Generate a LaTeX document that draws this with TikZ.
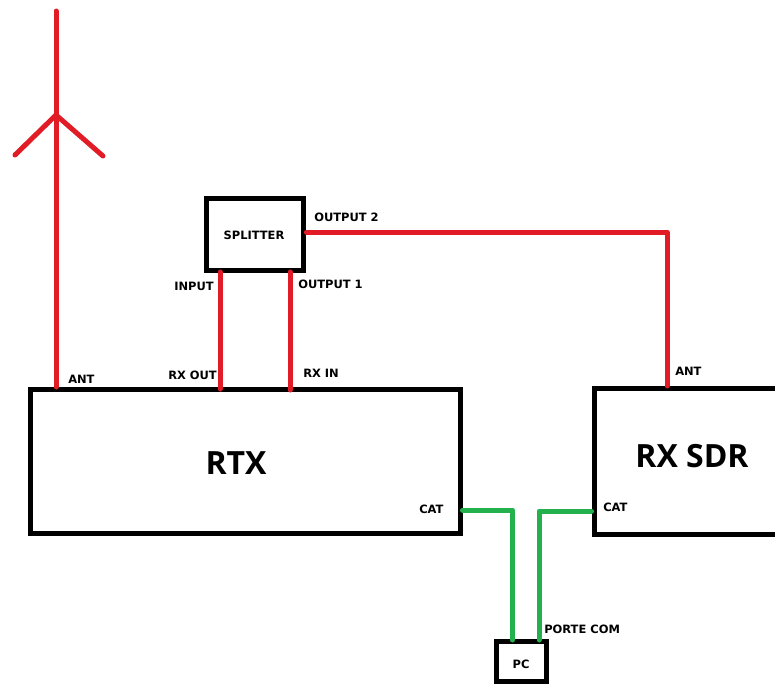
\documentclass[tikz,border=0pt]{standalone}
\usepackage{fontspec}
\setmainfont{DejaVu Sans}
\newfontfamily\bigfont[BoldFont={Open Sans Bold}]{Open Sans}
\definecolor{rfc}{RGB}{225,28,38}
\definecolor{gfc}{RGB}{34,177,76}
\tikzset{
 box/.style={draw=black,line width=3.75pt,fill=white,inner sep=0pt,rectangle},
 redw/.style={draw=rfc,line width=3.75pt,line cap=round,line join=round},
 greenw/.style={draw=gfc,line width=3.75pt,line cap=round,line join=round},
 lab/.style={font=\fontsize{8.6pt}{10pt}\bfseries,text=black,inner sep=0pt,anchor=west},
 midlab/.style={font=\fontsize{8.6pt}{10pt}\bfseries,text=black,inner sep=0pt},
 biglab/.style={font=\bigfont\fontsize{24pt}{26pt}\bfseries,text=black,inner sep=0pt},
}
\begin{document}
\begin{tikzpicture}[x=0.75pt,y=-0.75pt]
\useasboundingbox (0,0) rectangle (775,683);
\fill[white] (0,0) rectangle (775,683);
% boxes
\node[box,minimum width=322.5pt,minimum height=108pt] (rtx) at (245,461.5) {};
\node[biglab] (rtxl) at (236,463) {RTX};
\node[box,minimum width=172.5pt,minimum height=109.5pt] (sdr) at (709,461.5) {};
\node[biglab] (sdrl) at (692,456) {RX SDR};
\node[box,minimum width=73pt,minimum height=54pt] (spl) at (255.25,234.5) {};
\node[midlab] (spll) at (254,235) {SPLITTER};
\node[box,minimum width=37.5pt,minimum height=30pt] (pc) at (521,661) {};
\node[midlab] (pcl) at (521,664) {PC};
% ports
\coordinate (anttop) at (56,11);
\coordinate (antmid) at (56,115);
\coordinate (antbot) at (rtx.north -| anttop);
\coordinate (antl) at (15,155);
\coordinate (antr) at (103,156);
\coordinate (in1) at (220,272);
\coordinate (in2) at (220,389);
\coordinate (out1) at (290,272);
\coordinate (out2) at (290,390);
\coordinate (sp2) at (spl.east |- 0,232);
\coordinate (sdrtop) at (sdr.north -| 667,0);
\coordinate (gl1) at (rtx.east |- 0,510);
\coordinate (gl2) at (512.5,510);
\coordinate (gl3) at (512.5,640);
\coordinate (gr1) at (sdr.west |- 0,511);
\coordinate (gr2) at (539,511);
\coordinate (gr3) at (539,640);
% antenna
\draw[redw] (anttop) -- (antbot);
\draw[redw] (antl) -- (antmid) -- (antr);
% connectors
\draw[redw] (in1) -- (in2);
\draw[redw] (out1) -- (out2);
\draw[redw] (sp2) -- (sp2 -| sdrtop) -- (sdrtop);
\draw[greenw] (gl1) -- (gl2) -- (gl3);
\draw[greenw] (gr1) -- (gr2) -- (gr3);
% labels
\node[lab] (l1) at (68,379) {ANT};
\node[lab] (l2) at (168,375) {RX OUT};
\node[lab] (l3) at (303,373) {RX IN};
\node[lab] (l4) at (174,286) {INPUT};
\node[lab] (l5) at (298,284) {OUTPUT 1};
\node[lab] (l6) at (314,217) {OUTPUT 2};
\node[lab] (l7) at (675,371) {ANT};
\node[lab] (l8) at (419,509) {CAT};
\node[lab] (l9) at (603,507) {CAT};
\node[lab] (l10) at (544,629) {PORTE COM};
\end{tikzpicture}
\end{document}
